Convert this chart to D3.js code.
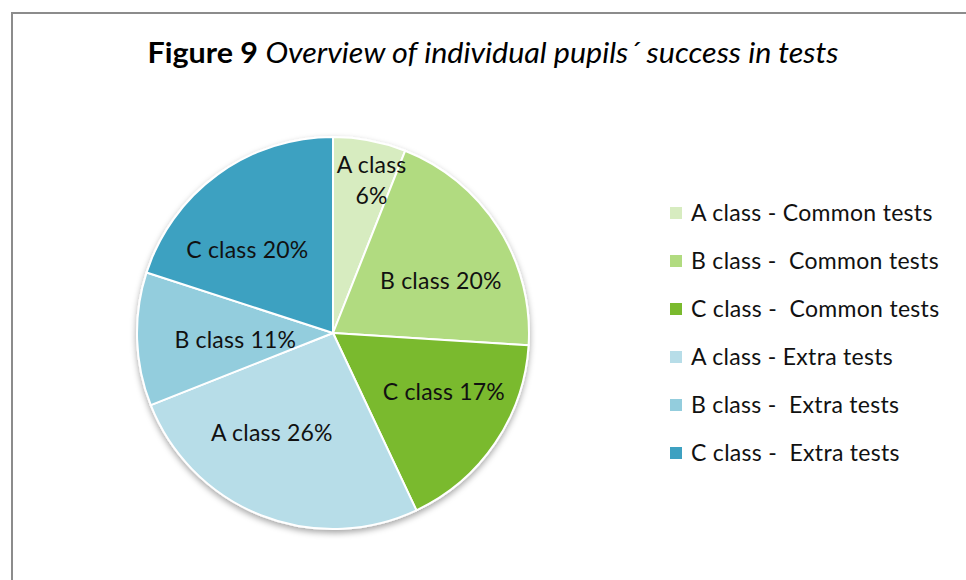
<!DOCTYPE html>
<html>
<head>
<meta charset="utf-8">
<script src="https://cdn.jsdelivr.net/npm/d3@7"></script>
<style>
  body { margin: 0; background: #fff; }
  svg { display: block; font-family: Lato, "Open Sans", sans-serif; }
</style>
</head>
<body>
<div id="chart"></div>
<script>
// chart data
var categories = ["A class - Common tests", "B class -  Common tests", "C class -  Common tests",
  "A class - Extra tests", "B class -  Extra tests", "C class -  Extra tests"];
var shortNames = ["A class", "B class", "C class", "A class", "B class", "C class"];
var shares = [6, 20, 17, 26, 11, 20];
var colors = ["#d7ecc0", "#b1db80", "#7aba2e", "#b7dde8", "#93cddd", "#3ea1c1"];

var svgWidth = 966;
var svgHeight = 580;

var svg = d3.select("#chart")
  .append("svg")
  .attr("width", svgWidth)
  .attr("height", svgHeight);

// drop shadow under the pie
var defs = svg.append("defs");
var shadow = defs.append("filter")
  .attr("id", "shadow")
  .attr("x", "-10%").attr("y", "-10%")
  .attr("width", "120%").attr("height", "120%");
shadow.append("feDropShadow")
  .attr("dx", 0).attr("dy", 3)
  .attr("stdDeviation", 3)
  .attr("flood-color", "#000")
  .attr("flood-opacity", 0.35);

// frame (only top and left edges are in view)
svg.append("rect")
  .attr("x", 12).attr("y", 13)
  .attr("width", 1200).attr("height", 1200)
  .attr("fill", "none")
  .attr("stroke", "#8c8c8c")
  .attr("stroke-width", 2);

// title
var title = svg.append("text")
  .attr("x", 493)
  .attr("y", 63)
  .attr("text-anchor", "middle")
  .attr("font-size", "28px")
  .attr("fill", "#000")
  .attr("textLength", 691)
  .attr("lengthAdjust", "spacingAndGlyphs");
title.append("tspan").attr("font-weight", "bold").text("Figure 9 ");
title.append("tspan").attr("font-style", "italic").text("Overview of individual pupils\u00b4 success in tests");

// pie
var cx = 333, cy = 333, radius = 196;

var pie = d3.pie().sort(null).value(d => d);
var arcs = pie(shares);

var arc = d3.arc().innerRadius(0).outerRadius(radius);

var pieGroup = svg.append("g")
  .attr("transform", `translate(${cx}, ${cy})`);

pieGroup.append("g")
  .attr("filter", "url(#shadow)")
  .selectAll("path")
  .data(arcs)
  .enter()
  .append("path")
  .attr("d", arc)
  .attr("fill", (d, i) => colors[i])
  .attr("stroke", "#fff")
  .attr("stroke-width", 2)
  .attr("stroke-linejoin", "round");

// label placement (radius factor and angle nudge, like the "best fit" placement)
var labelLayout = [
  { r: 0.80, da: 0.06 },
  { r: 0.61, da: 0.12 },
  { r: 0.64, da: -0.11 },
  { r: 0.60, da: 0.17 },
  { r: 0.50, da: -0.04 },
  { r: 0.61, da: -0.17 }
];

var labels = pieGroup.selectAll("text.lbl")
  .data(arcs)
  .enter()
  .append("text")
  .attr("class", "lbl")
  .attr("text-anchor", "middle")
  .attr("font-size", "23px")
  .attr("letter-spacing", "0.2px")
  .attr("fill", "#111")
  .each(function(d, i) {
    var a = (d.startAngle + d.endAngle) / 2 + labelLayout[i].da;
    var r = radius * labelLayout[i].r;
    var x = r * Math.sin(a);
    var y = -r * Math.cos(a);
    var t = d3.select(this);
    var pct = shares[i] + "%";
    if (d.endAngle - d.startAngle < 0.5) {
      // narrow slice: two lines
      t.append("tspan").attr("x", x).attr("y", y - 8).text(shortNames[i]);
      t.append("tspan").attr("x", x).attr("y", y + 23).text(pct);
    } else {
      t.attr("x", x).attr("y", y + 8).text(shortNames[i] + " " + pct);
    }
  });

// legend
var legend = svg.append("g")
  .attr("transform", "translate(670, 213)");

var rows = legend.selectAll("g")
  .data(categories)
  .enter()
  .append("g")
  .attr("transform", (d, i) => `translate(0, ${i * 48})`);

rows.append("rect")
  .attr("x", 0).attr("y", -6)
  .attr("width", 12).attr("height", 12)
  .attr("fill", (d, i) => colors[i]);

rows.append("text")
  .attr("x", 21)
  .attr("y", 8)
  .attr("font-size", "23px")
  .attr("letter-spacing", "0.3px")
  .attr("fill", "#111")
  .style("white-space", "pre")
  .text(d => d);
</script>
</body>
</html>
